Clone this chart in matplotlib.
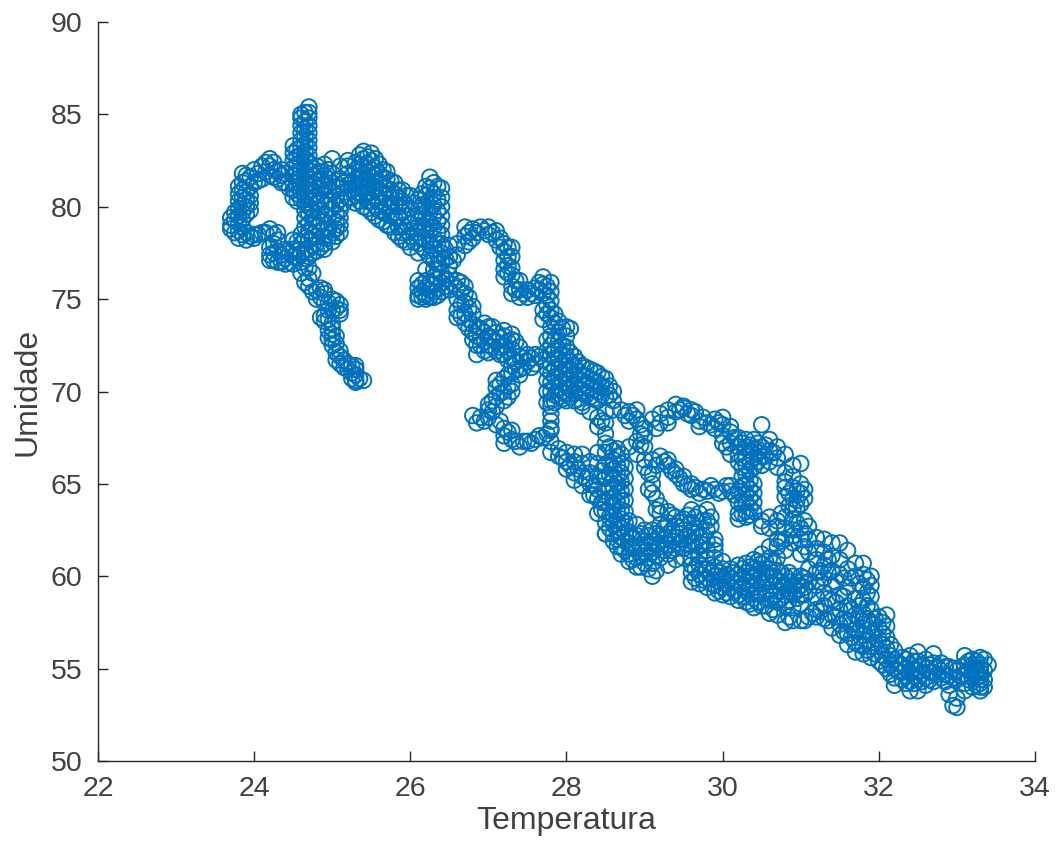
'''
Dispersao Temperatura x Umidade
'''
import matplotlib
matplotlib.use("Agg")
import matplotlib.pyplot as plt

#--------------------------Dados-----------------------------------------------
# cada trecho: pares (temperatura, umidade)
cauda = [(25.4,70.6),(25.3,70.5),(25.3,70.9),(25.3,71.2),(25.2,71.5),(25.1,71.9),(25.1,72.2),(25.0,72.5),
         (25.0,72.8),(25.0,73.1),(25.0,73.4),(24.9,73.8),(24.9,74.1),(25.0,74.4),(25.1,74.2),(25.1,74.7),
         (25.0,75.0),(24.9,75.3),(24.8,75.5),(24.7,75.7),(24.7,76.1),(24.6,76.4),(24.7,76.7),
         (25.35,70.7),(25.25,71.0),(25.25,71.4),(25.15,71.7),(25.2,71.2),(25.05,72.1),(25.05,72.6),(25.05,73.0),
         (24.95,73.3),(25.0,73.7),(24.95,74.4),(25.05,74.5),(25.05,74.9),(24.95,74.8),(24.85,75.1),(24.75,75.4),
         (24.65,75.9),(24.75,76.4),(24.65,76.7),(24.95,72.9),(25.1,71.5),(25.3,70.6),
         (24.8,75.0),(24.85,75.6),(24.9,75.5),(24.9,74.8),(25.1,74.4),(24.85,74.0),(24.95,73.9),(25.05,71.7),
         (25.15,71.3),(25.25,70.7),(25.3,71.4)]
bloco_esq = [(23.7,79.0),(23.7,79.4),(23.7,78.8),(23.75,79.3),(23.8,78.3),(23.8,78.7),(23.8,79.1),(23.8,79.5),
             (23.8,79.9),(23.8,80.3),(23.8,80.7),(23.8,81.1),(23.9,81.4),(23.9,78.2),(23.9,78.6),(23.9,79.6),
             (23.9,80.0),(23.9,80.4),(23.9,80.8),(23.9,81.7),(23.85,81.8),(24.0,81.3),(24.0,78.5),(24.0,78.3),
             (23.75,78.6),(23.75,79.7),(23.85,78.5),(23.85,78.9),(23.85,79.3),(23.85,79.7),(23.85,80.1),(23.85,80.5),
             (23.85,80.9),(23.85,81.3),(23.95,81.1),(23.95,80.6),(23.95,80.2),(23.95,79.8),(23.95,78.4),(23.95,81.6)]
arco_sup = [(24.0,82.0),(24.1,81.5),(24.1,82.2),(24.2,82.6),(24.2,82.2),(24.2,81.7),(24.3,81.9),(24.3,81.5),
            (24.4,81.8),(24.4,81.3),(24.45,81.0),(24.05,81.8),(24.15,81.9),(24.15,82.4),(24.25,82.4),(24.25,82.0),
            (24.25,81.6),(24.35,81.7),(24.35,82.0),(24.05,81.4),(24.35,81.3)]
coluna = [(24.7,85.4),(24.65,85.1),(24.6,84.8),(24.7,84.8),(24.6,84.4),(24.7,84.4),(24.6,84.0),(24.7,84.0),
          (24.6,83.6),(24.7,83.6),(24.5,83.3),(24.6,83.2),(24.7,83.2),(24.5,82.9),(24.6,82.8),(24.7,82.8),
          (24.5,82.5),(24.6,82.4),(24.7,82.4),(24.5,82.1),(24.6,82.0),(24.7,82.0),(24.5,81.7),(24.6,81.6),
          (24.7,81.6),(24.5,81.3),(24.6,81.2),(24.7,81.2),(24.5,80.9),(24.6,80.8),(24.7,80.8),(24.5,80.5),
          (24.6,80.4),(24.7,80.4),(24.8,81.8),(24.8,81.4),(24.8,81.0),(24.8,80.6),(24.8,82.2),
          (24.65,84.6),(24.65,84.2),(24.65,83.8),(24.65,83.4),(24.65,83.0),(24.65,82.6),(24.65,82.2),(24.65,81.8),
          (24.65,81.4),(24.65,81.0),(24.65,80.6),(24.55,83.1),(24.55,82.7),(24.55,82.3),(24.55,81.9),(24.55,81.5),
          (24.55,81.1),(24.55,80.7),(24.55,80.3),(24.75,82.1),(24.75,81.7),(24.75,81.3),(24.75,80.9),(24.75,80.5),
          (24.6,85.0),(24.7,85.1)]
arco_inf = [(24.1,78.6),(24.2,78.8),(24.3,78.6),(24.3,78.2),(24.2,77.8),(24.2,77.4),(24.2,77.1),(24.3,77.6),
            (24.3,77.0),(24.4,77.2),(24.4,76.9),(24.5,77.3),(24.5,76.9),(24.6,77.0),(24.6,77.4),(24.7,77.3),
            (24.7,77.7),(24.5,77.7),(24.6,78.0),(24.4,77.7),(24.5,78.2),(24.8,77.6),(24.8,78.0),(24.9,78.0),
            (24.9,77.7),(25.0,78.1),(25.1,78.6),(25.1,79.0),(25.0,78.6),
            (24.05,78.5),(24.15,78.6),(24.25,78.5),(24.25,78.0),(24.25,77.5),(24.25,77.1),(24.35,77.4),(24.35,77.0),
            (24.45,77.5),(24.45,77.0),(24.55,77.2),(24.55,77.6),(24.65,77.2),(24.65,77.6),(24.75,77.5),(24.75,77.9),
            (24.85,77.8),(24.95,78.3),(25.05,78.4),(25.05,78.8),(24.55,78.1),(24.65,78.3)]
centro = [(24.6,78.5),(24.7,78.2),(24.7,78.7),(24.8,78.4),(24.8,78.9),(24.9,78.4),(24.7,79.1),(24.8,79.4),
          (24.9,79.6),(25.0,79.4),(25.1,79.4),(25.1,79.8),(25.0,79.9),(24.9,80.1),(24.7,79.6),(24.7,80.0),
          (24.8,80.2),(25.0,80.3),(25.1,80.4),(25.2,80.5),(24.9,80.6),(25.0,80.8),(25.1,81.0),(24.9,81.2),
          (25.0,81.3),(24.9,81.7),(25.1,81.5),(25.2,81.2),(25.0,81.8),(25.2,81.8),
          (24.65,78.9),(24.75,78.5),(24.75,79.0),(24.85,78.7),(24.85,79.2),(24.95,78.8),(24.65,79.4),(24.75,79.4),
          (24.75,79.8),(24.85,79.8),(24.95,79.5),(24.95,80.3),(25.05,79.6),(25.05,80.1),(25.15,80.2),(24.85,80.4),
          (24.95,80.9),(25.05,80.6),(25.15,80.8),(24.85,81.0),(24.95,81.5),(25.05,81.1),(25.15,81.3),(24.65,80.2),
          (24.85,81.5),(24.85,81.9),(24.95,82.0),(25.05,79.2),(24.65,79.8)]
topo = [(25.0,82.6),(24.9,82.3),(25.1,82.2),(25.2,82.5),(25.2,82.2),(25.3,82.4),(25.3,82.0),(25.3,81.5),(25.3,81.0),
        (25.3,80.6),(25.3,80.2),(25.4,83.0),(25.4,82.6),(25.4,82.2),(25.4,81.8),(25.4,81.4),(25.4,81.0),
        (25.4,80.6),(25.4,80.0),(25.5,82.9),(25.5,82.5),(25.5,82.0),(25.5,81.6),(25.5,81.2),(25.5,80.8),
        (25.5,80.3),(25.5,79.7),(25.6,82.3),(25.6,81.8),(25.6,81.3),(25.6,80.8),(25.6,80.3),(25.6,79.3),
        (25.7,81.9),(25.7,81.5),(25.7,81.0),(25.7,80.4),(25.7,79.6),(25.7,79.0),(25.8,81.3),(25.8,80.7),
        (25.8,80.1),(25.8,79.4),(25.8,78.6),(25.9,80.9),(25.9,80.3),(25.9,79.7),(25.9,79.0),(25.9,78.2),
        (26.0,80.6),(26.0,79.9),(26.0,79.1),(26.0,78.4),(26.0,77.8),
        (25.35,82.8),(25.35,82.3),(25.35,81.9),(25.35,81.5),(25.35,81.1),(25.35,80.7),(25.35,80.3),(25.25,81.3),
        (25.25,80.9),(25.25,80.5),(25.45,82.7),(25.45,82.3),(25.45,81.9),(25.45,81.5),(25.45,81.1),(25.45,80.7),
        (25.45,80.3),(25.45,79.9),(25.55,82.6),(25.55,82.1),(25.55,81.7),(25.55,81.3),(25.55,80.9),(25.55,80.5),
        (25.55,80.0),(25.55,79.5),(25.65,82.0),(25.65,81.6),(25.65,81.2),(25.65,80.7),(25.65,80.2),(25.65,79.7),
        (25.65,79.2),(25.75,81.4),(25.75,80.9),(25.75,80.5),(25.75,80.0),(25.75,79.5),(25.75,78.9),(25.85,80.9),
        (25.85,80.5),(25.85,80.0),(25.85,79.5),(25.85,78.9),(25.85,78.4),(25.95,80.6),(25.95,80.1),(25.95,79.5),
        (25.95,78.7),(25.95,78.1),(25.6,79.8),(25.9,78.6),(25.7,80.0)]
pico = [(26.1,80.4),(26.1,79.8),(26.1,79.2),(26.1,78.6),(26.1,78.0),(26.1,77.5),(26.2,81.1),(26.2,80.6),
        (26.2,80.0),(26.2,79.4),(26.2,78.8),(26.2,78.2),(26.2,77.6),(26.25,81.6),(26.3,81.3),(26.3,80.7),
        (26.3,80.1),(26.3,79.5),(26.3,78.9),(26.3,78.3),(26.3,77.7),(26.3,77.1),(26.4,81.0),(26.4,80.5),
        (26.4,80.0),(26.4,79.5),(26.4,79.0),(26.4,78.5),(26.4,78.0),(26.4,77.5),(26.4,77.0),(26.5,77.9),
        (26.5,77.3),(26.5,76.8),(26.6,77.4),(26.6,78.0),
        (26.15,80.7),(26.15,80.1),(26.15,79.5),(26.15,78.9),(26.15,78.3),(26.15,77.8),(26.25,81.0),(26.25,80.4),
        (26.25,79.7),(26.25,79.1),(26.25,78.5),(26.25,77.9),(26.25,77.3),(26.35,81.1),(26.35,80.4),(26.35,79.8),
        (26.35,79.2),(26.35,78.6),(26.35,78.0),(26.35,77.4),(26.35,76.9),(26.05,80.2),(26.05,79.5),(26.05,78.8),
        (26.05,78.1),(26.45,77.7),(26.45,77.2),(26.55,77.1)]
bloco_meio = [(26.1,76.0),(26.1,75.6),(26.1,75.2),(26.1,75.0),(26.2,76.0),(26.2,75.6),(26.2,75.2),(26.2,75.0),
              (26.3,76.2),(26.3,75.8),(26.3,75.4),(26.3,75.1),(26.4,76.4),(26.4,75.9),(26.4,75.4),(26.2,76.6),
              (26.3,76.6),(26.15,75.8),(26.15,75.4),(26.15,75.1),(26.25,75.9),(26.25,75.5),(26.25,75.1),(26.35,76.1),
              (26.35,75.6),(26.35,75.2),(26.35,76.6),(26.45,76.1),(26.45,75.7)]
diagonal = [(26.5,76.3),(26.6,76.0),(26.6,75.6),(26.5,75.5),(26.7,75.3),(26.7,75.7),(26.6,75.0),(26.6,74.4),
            (26.7,74.8),(26.7,74.2),(26.6,74.0),(26.7,73.7),(26.8,74.2),(26.8,73.6),(26.8,73.2),(26.8,72.8),
            (26.9,73.4),(26.9,72.9),(26.9,72.5),(26.85,72.0),(27.0,73.5),(27.0,73.0),(27.0,72.5),(27.0,72.1),
            (27.1,73.2),(27.1,72.7),(27.1,72.2),(27.2,73.0),(27.2,72.5),(27.2,72.0),(27.3,72.8),(27.3,72.3),
            (27.3,71.8),(27.3,71.4),(27.4,71.9),(27.5,71.6),(27.55,71.8),(27.6,71.5),(27.7,71.7),
            (26.55,75.8),(26.65,75.4),(26.65,74.7),(26.65,74.1),(26.75,74.5),(26.75,73.9),(26.75,73.4),(26.85,73.5),
            (26.85,73.0),(26.85,72.5),(26.95,73.2),(26.95,72.7),(26.95,72.2),(27.05,72.9),(27.05,72.4),(27.15,72.9),
            (27.15,72.4),(27.15,72.0),(27.25,72.7),(27.25,72.2),(27.25,71.7),(27.35,71.6),(27.45,71.8),(27.65,71.9),
            (26.65,75.9),(26.75,75.1),(26.8,74.6),(26.95,73.7),(27.05,73.5),(27.2,73.3),(27.3,73.1),(27.35,72.7),
            (27.4,72.4),(27.5,72.0),(27.6,72.0),(27.45,71.3),(27.55,71.3),(27.35,71.2)]
ramo_sup = [(26.7,78.9),(26.7,78.4),(26.7,77.9),(26.8,78.8),(26.8,78.3),(26.9,78.9),(27.0,78.9),(27.0,78.5),
            (27.1,78.7),(27.1,78.2),(27.2,78.0),(27.2,77.6),(27.2,77.1),(27.3,77.8),(27.3,77.3),(27.2,76.6),
            (27.2,76.2),(27.3,76.7),(27.3,76.3),(27.3,75.7),(27.3,75.3),(27.4,76.0),(27.4,75.5),(27.4,75.1),
            (27.5,75.5),(27.5,75.1),(27.6,75.6),(27.6,75.2),(27.7,76.2),(27.7,75.8),(27.7,75.3),(27.8,75.9),
            (27.8,75.4),(27.8,74.9),(27.8,74.4),(27.7,74.4),(27.7,73.9),(27.8,74.0),(27.8,73.5),(27.9,73.8),
            (27.9,73.2),(28.0,73.5),(28.0,73.0),(28.05,73.4),
            (26.75,78.6),(26.75,78.1),(26.85,78.6),(26.95,78.7),(27.05,78.6),(27.15,78.3),(27.15,77.8),(27.25,77.8),
            (27.25,77.3),(27.25,76.8),(27.25,76.4),(27.35,76.0),(27.35,75.5),(27.45,75.3),(27.55,75.3),(27.65,75.5),
            (27.65,75.9),(27.75,75.7),(27.75,75.2),(27.75,74.7),(27.75,74.2),(27.85,74.2),(27.85,73.7),(27.95,73.4)]
bloco_central = [(27.8,73.0),(27.8,72.5),(27.8,72.0),(27.8,71.5),(27.8,71.0),(27.8,70.5),(27.8,70.0),(27.8,69.5),
                 (27.8,69.2),(27.9,72.7),(27.9,72.2),(27.9,71.7),(27.9,71.2),(27.9,70.7),(27.9,70.2),(27.9,69.7),
                 (28.0,72.4),(28.0,71.9),(28.0,71.4),(28.0,70.9),(28.0,70.4),(28.0,69.9),(28.0,69.5),(28.1,71.9),
                 (28.1,71.4),(28.1,70.9),(28.1,70.4),(28.1,69.9),(28.1,69.5),(28.2,71.4),(28.2,70.9),(28.2,70.4),
                 (28.2,69.9),(28.2,69.4),(28.3,71.2),(28.3,70.7),(28.3,70.2),(28.3,69.7),(28.4,71.0),(28.4,70.5),
                 (28.4,70.0),(28.4,69.5),(28.5,70.7),(28.5,70.2),(28.5,69.7),(28.6,70.0),(28.6,69.5),(27.8,68.8),
                 (27.8,68.4),(27.8,68.0),
                 (27.85,72.8),(27.85,72.3),(27.85,71.8),(27.85,71.3),(27.85,70.8),(27.85,70.3),(27.85,69.8),(27.85,69.4),
                 (27.95,72.5),(27.95,72.0),(27.95,71.5),(27.95,71.0),(27.95,70.5),(27.95,70.0),(27.95,69.6),(28.05,72.1),
                 (28.05,71.6),(28.05,71.1),(28.05,70.6),(28.05,70.1),(28.05,69.7),(28.15,71.6),(28.15,71.1),(28.15,70.6),
                 (28.15,70.1),(28.15,69.6),(28.25,71.3),(28.25,70.8),(28.25,70.3),(28.25,69.8),(28.35,71.1),(28.35,70.6),
                 (28.35,70.1),(28.35,69.6),(28.45,70.8),(28.45,70.3),(28.45,69.8),(28.55,70.3),(28.55,69.8),(27.75,72.8),
                 (27.75,72.2),(27.75,71.2),(27.75,70.6),(27.75,70.0),(27.75,69.4)]
esq_inf = [(27.3,71.0),(27.1,70.6),(27.2,70.7),(27.3,70.4),(27.4,70.9),(27.4,71.2),(27.1,70.2),(27.2,70.0),(27.3,70.0),
           (27.1,69.7),(27.2,69.5),(27.0,69.3),(27.1,69.2),(27.0,69.0),(26.8,68.7),(26.85,68.3),(26.9,68.6),
           (26.95,68.4),(27.0,68.6),(27.1,68.2),(27.2,68.0),(27.3,67.9),(27.2,67.6),(27.2,67.2),(27.3,67.4),
           (27.4,67.0),(27.45,67.3),(27.5,67.3),(27.6,67.4),(27.7,67.5),(27.8,67.9),(27.8,67.3),
           (27.15,70.4),(27.25,70.3),(27.25,70.9),(27.15,69.9),(27.25,69.7),(27.05,69.5),(27.05,68.9),(27.15,68.4),
           (27.25,67.8),(27.35,67.3),(27.55,67.2),(27.65,67.6),(27.75,67.7)]
banda_inf = [(27.8,66.7),(27.9,66.9),(27.9,66.5),(28.0,66.7),(28.0,66.2),(28.0,65.8),(28.1,66.6),(28.1,66.2),
             (28.1,65.6),(28.1,65.2),(28.2,66.6),(28.2,66.1),(28.2,65.4),(28.2,64.9),(28.3,66.2),(28.3,65.6),
             (28.3,65.0),(28.3,64.4),(28.4,66.7),(28.4,66.1),(28.4,65.4),(28.4,64.7),(28.4,64.2),(28.5,66.7),
             (28.5,66.0),(28.5,65.3),(28.5,64.6),(28.5,64.0),(28.5,63.5),(28.4,63.4),(28.5,62.9),(28.5,62.3),
             (27.95,66.4),(28.05,66.0),(28.15,65.8),(28.25,65.3),(28.35,64.9),(28.35,64.4),(28.45,64.0),(28.45,63.6),
             (28.55,63.2),(28.55,62.6),(28.45,65.7),(28.55,66.2),(28.55,65.5),(28.55,64.8),(28.55,64.2)]
arco_buraco = [(28.2,69.2),(28.3,68.9),(28.4,68.6),(28.4,68.1),(28.5,68.9),(28.5,68.3),(28.5,67.7),(28.5,67.2),
               (28.6,69.0),(28.7,69.0),(28.8,68.9),(28.8,68.4),(28.9,69.0),(28.9,68.5),(29.0,68.0),(29.0,67.6),
               (29.0,67.0),(28.9,67.3),(28.8,67.0),(28.45,68.4),(28.55,67.0),(28.65,66.9),(28.75,68.7),(28.85,68.7),
               (28.95,68.2),(28.95,67.7),(28.95,67.1)]
coluna_28 = [(28.6,66.8),(28.6,66.3),(28.6,65.8),(28.6,65.3),(28.6,64.8),(28.6,64.3),(28.6,63.8),(28.6,63.3),
             (28.6,62.8),(28.6,62.3),(28.7,66.6),(28.7,66.1),(28.7,65.6),(28.7,65.1),(28.7,64.6),(28.7,64.1),
             (28.7,63.6),(28.7,63.1),(28.7,62.6),(28.7,62.1),(28.7,61.6),
             (28.65,66.5),(28.65,66.0),(28.65,65.5),(28.65,65.0),(28.65,64.5),(28.65,64.0),(28.65,63.5),(28.65,63.0),
             (28.65,62.5),(28.65,62.0),(28.75,65.9),(28.75,65.3),(28.75,64.7),(28.75,64.1),(28.75,63.5),(28.75,62.9),
             (28.75,62.3)]
laco_topo = [(29.1,68.5),(29.15,68.0),(29.2,68.8),(29.3,69.0),(29.3,68.6),(29.4,69.3),(29.4,68.9),(29.5,69.1),
             (29.5,69.2),(29.6,69.0),(29.6,68.7),(29.65,68.9),(29.7,68.4),(29.7,68.1),(29.8,68.3),(29.9,68.5),
             (29.9,68.0),(30.0,68.6),(30.0,68.2),(30.0,67.6),(30.0,67.2),(30.1,68.1),(30.1,67.8),(30.05,67.0),
             (30.1,66.6),(30.2,67.5),(30.2,67.0),(30.3,67.4),
             (29.2,68.3),(29.3,68.3),(29.45,69.0),(29.55,68.8),(29.75,68.6),(29.85,68.2),(29.95,68.3),(30.15,67.5),
             (30.1,67.2),(30.25,67.2),(30.35,67.1),(30.45,67.2),(30.55,67.1),(30.4,67.4)]
coluna_30 = [(30.5,68.2),(30.2,66.6),(30.2,66.2),(30.3,67.0),(30.3,66.5),(30.3,66.0),(30.3,65.5),(30.3,65.0),
             (30.3,64.5),(30.3,64.0),(30.3,63.5),(30.3,63.2),(30.4,66.9),(30.4,66.4),(30.4,65.9),(30.4,65.0),
             (30.4,64.5),(30.4,64.0),(30.4,63.5),(30.2,63.4),(30.2,64.0),(30.2,64.6),(30.5,67.0),(30.5,66.5),
             (30.5,66.0),(30.6,67.4),(30.6,66.8),(30.6,66.2),(30.7,67.0),(30.7,66.4),(30.7,65.9),
             (30.8,66.6),(30.8,65.6),(30.8,64.8),(30.8,64.3),(30.9,66.0),(30.9,65.4),(30.9,64.8),(30.9,64.2),
             (31.0,66.1),(31.0,65.0),(31.0,64.5),(31.0,63.9),(30.9,63.6),(30.8,63.2),(30.9,63.1),(30.6,63.2),
             (30.5,63.0),(30.5,62.7),(30.2,63.1),(30.7,63.0),(30.8,62.6),(30.9,62.5),
             (30.25,66.4),(30.25,65.9),(30.25,65.4),(30.25,64.9),(30.25,64.4),(30.25,63.9),(30.25,63.4),(30.35,66.8),
             (30.35,66.2),(30.35,65.7),(30.35,65.2),(30.35,64.7),(30.35,64.2),(30.35,63.7),(30.35,63.3),(30.45,66.7),
             (30.45,66.2),(30.55,66.5),(30.65,66.7),(30.85,64.5),(30.95,64.6),(30.95,64.1),(30.85,63.8),
             (30.8,65.1),(31.05,64.7),(31.05,64.2),(30.95,63.7),(30.75,63.4),(30.7,62.7),(30.6,62.6),(30.95,62.9),
             (31.0,62.6),(31.05,63.0),(30.7,62.0),(30.8,62.0),(30.9,62.2),(30.75,61.9)]
laco_meio = [(28.9,66.6),(29.0,66.3),(29.0,65.9),(29.1,66.3),(29.1,65.5),(29.1,65.0),(29.1,64.5),(29.2,66.5),(29.3,66.3),
             (29.3,66.0),(29.4,65.8),(29.4,65.5),(29.5,65.4),(29.5,65.0),(29.6,65.0),(29.6,64.7),(29.7,64.5),
             (29.8,64.6),(29.9,64.7),(30.0,64.6),(30.1,64.6),(30.1,64.9),(29.15,63.6),(29.2,63.4),(29.3,63.5),
             (29.4,63.2),(29.5,63.1),(29.6,63.6),(29.7,63.4),(29.8,63.6),(29.8,63.0),(29.8,62.5),(29.9,62.0),
             (29.9,61.7),(28.8,63.0),(28.9,62.8),
             (29.05,65.6),(29.15,66.0),(29.25,66.2),(29.35,65.7),(29.45,65.3),(29.55,64.9),(29.65,64.8),(29.75,64.7),
             (29.85,64.9),(29.95,64.5),(30.05,64.9),(30.15,64.4),(29.05,64.7),(29.15,64.2),(29.2,63.8),(29.35,63.3),
             (29.45,62.9),(29.55,63.3),(29.65,63.2),(29.75,63.0),(29.85,63.2),(29.85,62.7)]
banda_principal = [(28.5,62.3),(28.6,61.9),(28.7,61.2),(28.8,62.4),(28.8,61.8),(28.8,61.2),(28.8,60.8),(28.9,62.2),
                   (28.9,61.6),(28.9,61.0),(28.9,60.5),(29.0,62.5),(29.0,61.9),(29.0,61.3),(29.0,60.7),(29.1,62.5),
                   (29.1,61.9),(29.1,61.3),(29.1,60.7),(29.1,60.0),(29.15,60.3),(29.2,62.8),(29.2,62.2),(29.2,61.6),
                   (29.2,61.0),(29.3,62.9),(29.3,62.3),(29.3,61.7),(29.3,61.2),(29.4,62.7),(29.4,62.1),(29.4,61.5),
                   (29.5,62.5),(29.5,62.0),(29.5,61.5),(29.6,62.9),(29.6,62.4),(29.6,61.9),(29.6,61.4),(29.7,62.6),
                   (29.7,62.1),(29.7,61.6),(29.8,61.9),(29.8,61.4),(29.9,61.4),
                   (28.65,61.6),(28.75,61.9),(28.75,61.4),(28.85,62.1),(28.85,61.5),(28.85,60.9),(28.95,62.3),(28.95,61.7),
                   (28.95,61.1),(28.95,60.5),(29.05,62.2),(29.05,61.6),(29.05,61.0),(29.05,60.4),(29.15,62.3),(29.15,61.7),
                   (29.15,61.1),(29.25,62.6),(29.25,62.0),(29.25,61.4),(29.35,62.5),(29.35,61.9),(29.35,61.4),(29.45,62.3),
                   (29.45,61.8),(29.55,62.2),(29.55,61.7),(29.65,62.3),(29.65,61.8),(29.75,62.2),(29.75,61.7),
                   (29.3,60.6),(29.4,60.9),(29.5,61.0),(29.6,61.0),(29.7,61.1),(29.8,61.0),(29.9,61.0),(30.0,60.8)]
banda_direita = [(29.6,60.6),(29.6,60.2),(29.6,59.7),(29.7,60.6),(29.7,60.1),(29.7,59.6),(29.8,60.4),(29.8,59.9),
                 (29.8,59.4),(29.9,60.5),(29.9,60.0),(29.9,59.5),(29.9,59.1),(30.0,60.4),(30.0,59.9),(30.0,59.4),
                 (30.0,59.0),(30.1,60.4),(30.1,59.9),(30.1,59.4),(30.1,58.9),(30.2,60.6),(30.2,60.1),(30.2,59.6),
                 (30.2,59.0),(30.2,58.7),(30.3,60.7),(30.3,60.2),(30.3,59.7),(30.3,59.2),(30.3,58.6),(30.4,60.9),
                 (30.4,60.4),(30.4,59.9),(30.4,59.4),(30.4,58.8),(30.4,58.3),(30.5,61.2),(30.5,60.7),(30.5,60.2),
                 (30.5,59.6),(30.5,59.0),(30.5,58.4),(30.6,61.6),(30.6,61.0),(30.6,60.4),(30.6,59.9),(30.6,59.3),
                 (30.6,58.7),(30.6,58.0),(30.7,61.6),(30.7,61.0),(30.7,60.3),(30.7,59.8),(30.7,59.2),(30.7,58.6),
                 (30.7,57.9),(30.8,61.4),(30.8,60.0),(30.8,59.5),(30.8,59.0),(30.8,58.4),(30.8,57.5),(30.85,57.8),
                 (30.9,61.8),(30.9,60.0),(30.9,59.5),(30.9,59.0),(30.9,58.3),(30.9,57.6),(31.0,62.0),(31.0,61.2),
                 (31.0,60.0),(31.0,59.5),(31.0,59.0),(31.0,58.5),(31.0,57.6),(31.1,62.7),(31.1,62.0),(31.1,61.3),
                 (31.1,60.4),(31.1,59.7),(31.1,59.2),(31.1,57.8),
                 (29.65,60.4),(29.65,59.9),(29.75,60.4),(29.75,59.8),(29.85,60.2),(29.85,59.6),(29.95,60.2),(29.95,59.7),
                 (29.95,59.2),(30.05,60.1),(30.05,59.6),(30.05,59.1),(30.15,60.2),(30.15,59.7),(30.15,59.2),(30.25,60.4),
                 (30.25,59.9),(30.25,59.4),(30.25,58.9),(30.35,60.5),(30.35,60.0),(30.35,59.5),(30.35,59.0),(30.35,58.5),
                 (30.45,60.8),(30.45,60.3),(30.45,59.8),(30.45,59.2),(30.45,58.6),(30.55,60.8),(30.55,60.2),(30.55,59.7),
                 (30.55,59.1),(30.55,58.4),(30.65,60.7),(30.65,60.0),(30.65,59.5),(30.65,58.9),(30.65,58.2),(30.75,60.2),
                 (30.75,59.7),(30.75,59.2),(30.75,58.8),(30.85,60.2),(30.85,59.7),(30.85,59.2),(30.85,58.7),(30.95,59.7),
                 (30.95,59.2),(30.95,58.8),(31.05,59.9),(31.05,59.4),(31.05,59.0),(31.05,62.3),(31.05,61.6)]
descida = [(31.2,62.1),(31.2,61.5),(31.2,60.9),(31.2,60.2),(31.2,59.5),(31.2,58.9),(31.2,58.2),(31.2,57.8),
           (31.3,62.0),(31.3,61.3),(31.3,60.6),(31.3,59.9),(31.3,59.1),(31.3,58.4),(31.3,57.7),(31.4,61.8),
           (31.4,61.1),(31.4,60.3),(31.4,59.5),(31.4,58.7),(31.4,57.9),(31.4,57.2),(31.5,61.8),(31.5,60.9),
           (31.5,60.1),(31.5,59.0),(31.5,58.2),(31.5,57.4),(31.5,56.8),(31.6,61.4),(31.6,60.4),(31.6,59.4),
           (31.6,58.4),(31.6,57.6),(31.6,56.9),(31.6,56.3),(31.7,60.7),(31.7,60.0),(31.7,58.8),(31.7,57.9),
           (31.7,57.1),(31.7,56.4),(31.7,55.9),(31.8,60.7),(31.8,60.1),(31.8,59.4),(31.8,58.7),(31.8,58.0),
           (31.8,57.4),(31.8,56.8),(31.8,56.2),(31.8,55.8),(31.9,60.0),(31.9,59.5),(31.9,58.9),(31.9,58.2),
           (31.9,57.5),(31.9,56.9),(31.9,56.2),(31.9,55.6),(32.0,57.8),(32.0,57.2),(32.0,56.6),(32.0,56.0),
           (32.0,55.4),(32.1,57.9),(32.1,57.3),(32.1,56.7),(32.1,56.1),(32.1,55.5),(32.1,55.0),(32.2,56.0),
           (32.2,55.5),(32.2,55.0),(32.2,54.5),(32.2,54.1),
           (31.25,60.3),(31.25,59.7),(31.35,60.9),(31.35,60.2),(31.35,58.8),(31.45,59.7),(31.45,58.6),(31.45,57.8),
           (31.55,59.9),(31.55,58.9),(31.55,57.7),(31.55,57.0),(31.65,59.9),(31.65,58.2),(31.65,57.4),(31.65,56.7),
           (31.75,59.6),(31.75,58.4),(31.75,57.7),(31.75,57.0),(31.75,56.3),(31.85,59.8),(31.85,59.1),(31.85,58.4),
           (31.85,57.7),(31.85,57.1),(31.85,56.5),(31.85,56.0),(31.95,57.7),(31.95,57.1),(31.95,56.4),(31.95,55.8),
           (32.05,57.5),(32.05,56.9),(32.05,56.3),(32.05,55.7),(32.05,55.2),(32.15,56.3),(32.15,55.7),(32.15,55.2),
           (32.15,54.7),(31.05,57.6),(31.15,58.0),(31.25,58.1),(31.35,57.6)]
final = [(32.3,55.6),(32.3,55.2),(32.3,54.8),(32.3,54.4),(32.4,55.7),(32.4,55.2),(32.4,54.8),(32.4,54.3),(32.4,53.8),
         (32.5,55.9),(32.5,55.4),(32.5,54.9),(32.5,54.4),(32.5,53.8),(32.6,55.5),(32.6,55.0),(32.6,54.5),(32.6,54.1),
         (32.7,55.8),(32.7,55.3),(32.7,54.8),(32.7,54.3),(32.8,55.3),(32.8,54.9),(32.8,54.5),(32.9,55.1),(32.9,54.6),
         (32.9,54.1),(32.9,53.6),(32.95,53.0),(33.0,52.9),(33.0,53.4),(33.0,54.9),(33.0,54.4),(33.1,55.7),(33.1,55.2),
         (33.1,54.7),(33.1,54.2),(33.1,53.8),(33.2,55.5),(33.2,55.0),(33.2,54.5),(33.2,54.0),(33.3,55.6),(33.3,55.2),
         (33.3,54.8),(33.3,54.4),(33.3,54.0),(33.4,55.2),(33.35,55.5),(33.3,53.8),
         (32.25,55.3),(32.25,54.9),(32.35,55.5),(32.35,55.0),(32.35,54.6),(32.35,54.2),(32.45,55.4),(32.45,55.0),
         (32.45,54.6),(32.45,54.2),(32.55,55.2),(32.55,54.7),(32.55,54.3),(32.65,55.2),(32.65,54.8),(32.65,54.4),
         (32.75,55.1),(32.75,54.7),(32.85,55.1),(32.85,54.7),(32.85,54.3),(32.95,55.0),(32.95,54.5),(33.05,55.1),
         (33.05,54.6),(33.15,55.4),(33.15,54.9),(33.15,54.4),(33.25,55.4),(33.25,54.9),(33.25,54.5),(33.25,54.1),
         (33.35,54.9),(33.35,54.4),(33.35,54.0),(33.2,55.2),(33.3,55.0),(33.3,54.6),(33.3,54.2)]

trechos = [cauda, bloco_esq, arco_sup, coluna, arco_inf, centro, topo, pico, bloco_meio, diagonal, ramo_sup,
           bloco_central, esq_inf, banda_inf, arco_buraco, coluna_28, laco_topo, coluna_30, laco_meio,
           banda_principal, banda_direita, descida, final]
temperatura = [p[0] for t in trechos for p in t]
umidade = [p[1] for t in trechos for p in t]

#------------------------------Grafico-----------------------------------------
plt.rcParams['font.family'] = ['Liberation Sans', 'DejaVu Sans']
fig = plt.figure(figsize=(10.57, 8.43), dpi=100)
ax = fig.add_axes([98/1057, 1-761/843, (1035-98)/1057, (761-22)/843])
ax.scatter(temperatura, umidade, s=125, facecolors='none', edgecolors='#0072BD', linewidths=1.4, clip_on=False)
ax.set_xlim(22, 34)
ax.set_ylim(50, 90)
ax.set_xticks([22, 24, 26, 28, 30, 32, 34])
ax.set_yticks([50, 55, 60, 65, 70, 75, 80, 85, 90])
ax.spines['top'].set_visible(False)
ax.spines['right'].set_visible(False)
for s in ['left', 'bottom']:
    ax.spines[s].set_color('#262626')
    ax.spines[s].set_linewidth(1.0)
ax.tick_params(direction='in', length=7, width=1.0, color='#262626', labelcolor='#404040', labelsize=20.5, pad=11)
ax.set_xlabel('Temperatura', fontsize=23, color='#404040', labelpad=3)
ax.set_ylabel('Umidade', fontsize=23, color='#404040', labelpad=6)
fig.savefig('out.png', dpi=100)
